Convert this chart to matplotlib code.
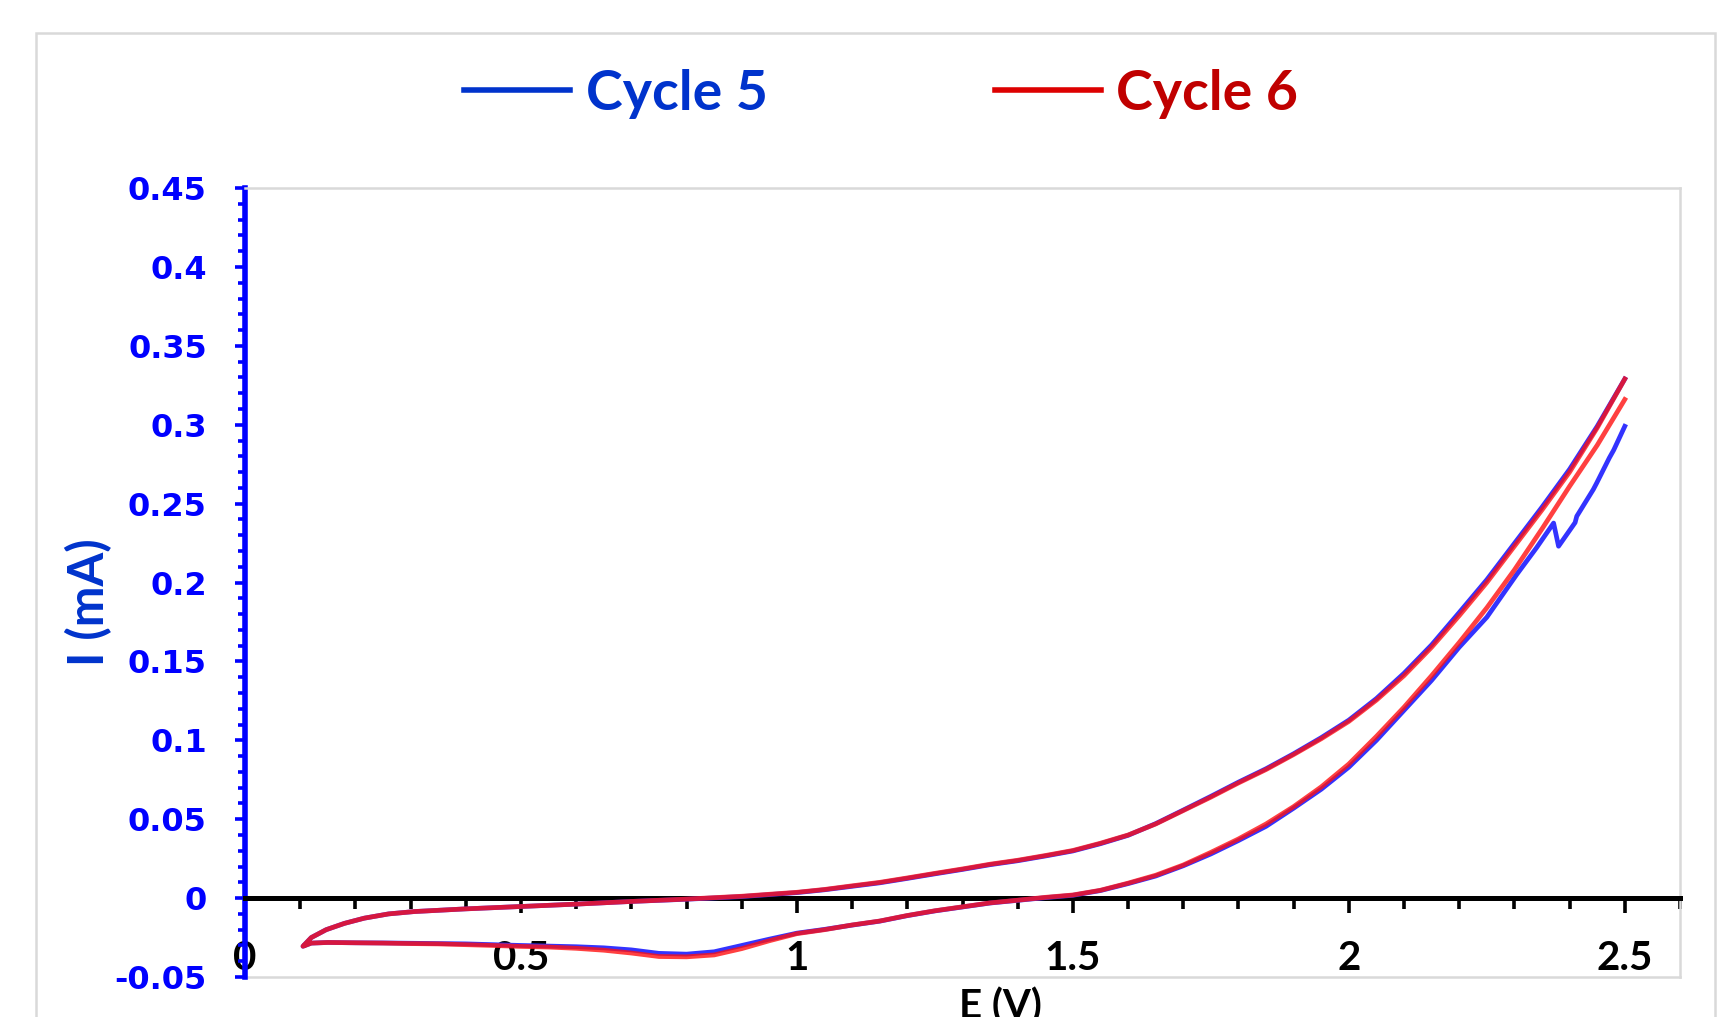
import matplotlib
matplotlib.use("Agg")
import matplotlib.pyplot as plt
from matplotlib.patches import Rectangle
from matplotlib.ticker import MultipleLocator, FormatStrFormatter

# Cycle 6 - reverse scan (2.5 V -> 0.1 V)
e_c6_down = [2.50, 2.45, 2.40, 2.35, 2.30, 2.25, 2.20, 2.15, 2.10, 2.05, 2.00, 1.95, 1.90,
             1.85, 1.80, 1.75, 1.70, 1.65, 1.60, 1.55, 1.50, 1.45, 1.40, 1.35, 1.30, 1.25,
             1.20, 1.15, 1.10, 1.05, 1.00, 0.95, 0.90, 0.85, 0.80, 0.75, 0.70, 0.65, 0.60,
             0.55, 0.50, 0.45, 0.40, 0.35, 0.30, 0.25, 0.20, 0.15, 0.12, 0.105]
i_c6_down = [0.316, 0.287, 0.261, 0.234, 0.208, 0.184, 0.162, 0.141, 0.121, 0.1025, 0.085, 0.0705, 0.058,
             0.047, 0.0375, 0.029, 0.021, 0.0145, 0.0095, 0.005, 0.002, 0.0005, -0.0013, -0.003, -0.0055, -0.008,
             -0.011, -0.0145, -0.017, -0.020, -0.0225, -0.027, -0.032, -0.036, -0.0372, -0.037, -0.0348, -0.033, -0.0318,
             -0.031, -0.0306, -0.030, -0.0295, -0.029, -0.0288, -0.0285, -0.0283, -0.0281, -0.0285, -0.0305]

# Cycle 6 - forward scan (0.1 V -> 2.5 V)
e_c6_up = [0.105, 0.12, 0.147, 0.18, 0.216, 0.26, 0.307, 0.40, 0.50, 0.60, 0.70, 0.80, 0.90,
           1.00, 1.05, 1.10, 1.15, 1.20, 1.25, 1.30, 1.35, 1.40, 1.45, 1.50, 1.55, 1.60,
           1.65, 1.70, 1.75, 1.80, 1.85, 1.90, 1.95, 2.00, 2.05, 2.10, 2.15, 2.20, 2.25,
           2.30, 2.35, 2.40, 2.45, 2.50]
i_c6_up = [-0.0305, -0.025, -0.020, -0.016, -0.0127, -0.010, -0.0085, -0.0068, -0.0053, -0.0038, -0.0021, -0.0006, 0.0012,
           0.0037, 0.0055, 0.0078, 0.0100, 0.0128, 0.0157, 0.0185, 0.0215, 0.0240, 0.0270, 0.0302, 0.0348, 0.040,
           0.047, 0.0555, 0.064, 0.073, 0.0815, 0.091, 0.101, 0.112, 0.1255, 0.141, 0.159, 0.179, 0.200,
           0.223, 0.246, 0.270, 0.298, 0.329]

# Cycle 5 - reverse scan (with the small glitch near 2.37 V)
e_c5_down = [2.50, 2.48, 2.472, 2.449, 2.443, 2.413, 2.41, 2.38, 2.371, 2.34, 2.304, 2.274, 2.25,
             2.20, 2.15, 2.10, 2.05, 2.00, 1.95, 1.90, 1.85, 1.80, 1.75, 1.70, 1.65, 1.60,
             1.55, 1.50, 1.45, 1.40, 1.35, 1.30, 1.25, 1.20, 1.15, 1.10, 1.05, 1.00, 0.95,
             0.90, 0.85, 0.80, 0.75, 0.70, 0.65, 0.60, 0.55, 0.50, 0.45, 0.40, 0.35, 0.30,
             0.25, 0.20, 0.15, 0.12, 0.105]
i_c5_down = [0.299, 0.284, 0.279, 0.263, 0.259, 0.242, 0.238, 0.223, 0.2377, 0.222, 0.205, 0.190, 0.178,
             0.159, 0.138, 0.119, 0.100, 0.083, 0.069, 0.057, 0.0455, 0.0365, 0.028, 0.0205, 0.014, 0.0092,
             0.0048, 0.0018, 0.0003, -0.0014, -0.0031, -0.0056, -0.0081, -0.0111, -0.0146, -0.0171, -0.0198, -0.0222, -0.026,
             -0.030, -0.034, -0.0355, -0.035, -0.0328, -0.0315, -0.0308, -0.0304, -0.030, -0.0295, -0.029, -0.0288, -0.0286,
             -0.0284, -0.0283, -0.0281, -0.0285, -0.0305]

# Cycle 5 - forward scan
e_c5_up = [0.105, 0.12, 0.147, 0.18, 0.216, 0.26, 0.307, 0.40, 0.50, 0.60, 0.70, 0.80, 0.90,
           1.00, 1.05, 1.10, 1.15, 1.20, 1.25, 1.30, 1.35, 1.40, 1.45, 1.50, 1.55, 1.60,
           1.65, 1.70, 1.75, 1.80, 1.85, 1.90, 1.95, 2.00, 2.05, 2.10, 2.15, 2.20, 2.25,
           2.30, 2.35, 2.40, 2.45, 2.50]
i_c5_up = [-0.0305, -0.025, -0.020, -0.016, -0.0127, -0.010, -0.0085, -0.0068, -0.0053, -0.0038, -0.0021, -0.0007, 0.0010,
           0.0035, 0.0053, 0.0075, 0.0097, 0.0125, 0.0154, 0.0182, 0.0212, 0.0237, 0.0267, 0.0299, 0.0345, 0.0398,
           0.0472, 0.0558, 0.0645, 0.0735, 0.082, 0.0915, 0.1017, 0.1128, 0.1265, 0.1425, 0.1605, 0.181, 0.2018,
           0.2248, 0.2478, 0.2718, 0.299, 0.329]

e_c5 = e_c5_down + e_c5_up
i_c5 = i_c5_down + i_c5_up
e_c6 = e_c6_down + e_c6_up
i_c6 = i_c6_down + i_c6_up

fig = plt.figure(figsize=(17.33, 10.17), dpi=100)
ax = fig.add_axes([0.1414, 0.0393, 0.828, 0.7758])

# outer chart border
fig.patches.append(Rectangle((0.0208, -0.1), 0.969, 1.0676, transform=fig.transFigure,
                             fill=False, edgecolor="#D9D9D9", linewidth=1.8))

l5, = ax.plot(e_c5, i_c5, color="#3333FF", linewidth=3.4, label="Cycle 5", zorder=3)
l6, = ax.plot(e_c6, i_c6, color="#FF1010", alpha=0.8, linewidth=3.4, label="Cycle 6", zorder=4)

ax.set_xlim(0, 2.6)
ax.set_ylim(-0.05, 0.45)

# spines
ax.spines["bottom"].set_position(("data", 0))
ax.spines["bottom"].set_color("black")
ax.spines["bottom"].set_linewidth(3.6)
ax.spines["left"].set_color("#0000FF")
ax.spines["left"].set_linewidth(4)
ax.spines["top"].set_color("#D9D9D9")
ax.spines["right"].set_color("#D9D9D9")
ax.spines["top"].set_linewidth(1.8)
ax.spines["right"].set_linewidth(1.8)
ax.plot([0, 1], [0, 0], transform=ax.transAxes, color="#D9D9D9", linewidth=1.8, clip_on=False, zorder=1)

# x axis ticks
ax.xaxis.set_major_locator(MultipleLocator(0.5))
ax.xaxis.set_minor_locator(MultipleLocator(0.1))
ax.xaxis.set_major_formatter(FormatStrFormatter("%g"))
ax.tick_params(axis="x", which="major", direction="out", length=11, width=2.6, color="black",
               pad=19, labelsize=29, labelcolor="black")
ax.tick_params(axis="x", which="minor", direction="out", length=8, width=2.6, color="black")
for lab in ax.get_xticklabels():
    lab.set_fontfamily("Lato")
    lab.set_fontweight("bold")

# y axis ticks
ax.yaxis.set_major_locator(MultipleLocator(0.05))
ax.yaxis.set_minor_locator(MultipleLocator(0.01))
ax.yaxis.set_major_formatter(FormatStrFormatter("%g"))
ax.tick_params(axis="y", which="major", direction="out", length=7.5, width=2.6, color="#0000FF",
               pad=20, labelsize=23, labelcolor="#0000FF")
ax.tick_params(axis="y", which="minor", direction="out", length=5, width=2.6, color="#0000FF")
for lab in ax.get_yticklabels():
    lab.set_fontfamily("DejaVu Sans")
    lab.set_fontweight("bold")

fig.text(0.051, 0.408, "I (mA)", rotation=90, ha="center", va="center",
         fontsize=35, fontweight="bold", family="Lato", color="#0033CC")
fig.text(0.577, 0.0285, "E (V)", ha="center", va="top",
         fontsize=29, fontweight="bold", family="Lato", color="black")

leg = fig.legend(handles=[l5, l6], loc="center", bbox_to_anchor=(0.5086, 0.908), ncol=2,
                 frameon=False, handlelength=1.9, handletextpad=0.28, columnspacing=4.1,
                 borderpad=0, prop={"family": "Lato", "weight": "bold", "size": 40})
leg_line_colors = ["#0033CC", "#DD0000"]
leg_text_colors = ["#0033CC", "#C00000"]
for hl, txt, lc, tc in zip(leg.get_lines(), leg.get_texts(), leg_line_colors, leg_text_colors):
    hl.set_color(lc)
    hl.set_alpha(1)
    hl.set_linewidth(4)
    txt.set_color(tc)

fig.savefig("out.png", dpi=100)
